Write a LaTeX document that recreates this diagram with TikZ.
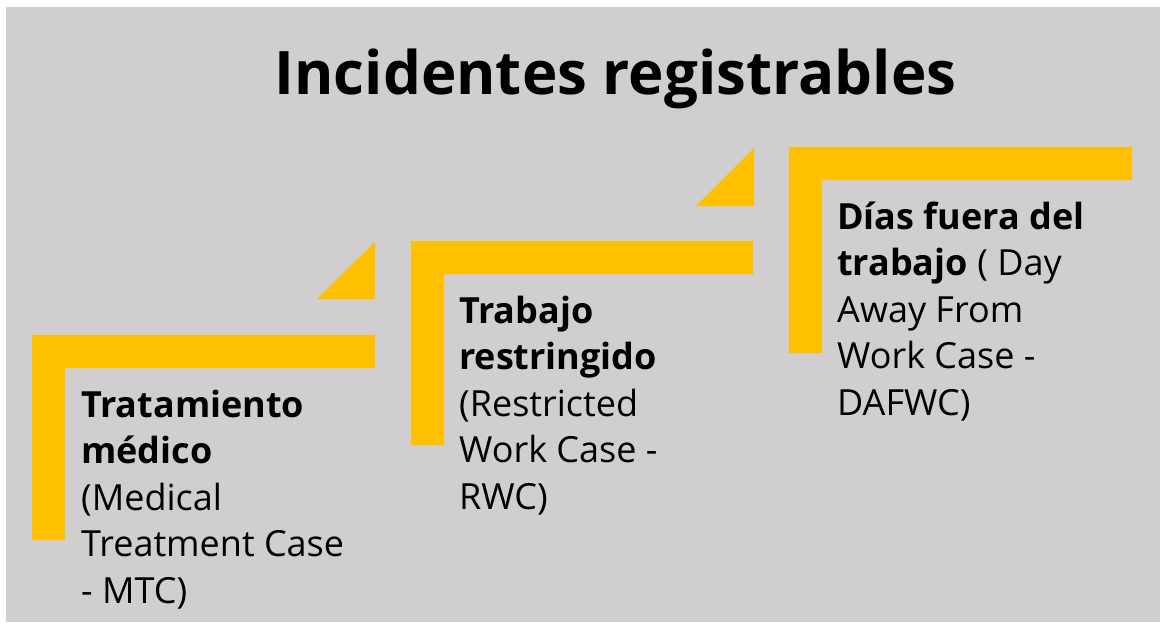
\documentclass[tikz,border=0pt]{standalone}
\usepackage{fontspec}
\setmainfont{Open Sans}
\definecolor{bggray}{HTML}{D0CECE}
\definecolor{gold}{HTML}{FFC000}
\newcommand\stacklines[1]{\vtop{\baselineskip=46.5pt\lineskiplimit=-100pt\lineskip=0pt #1}}
\tikzset{
  band/.style={fill=gold, draw=none},
  blk/.style={inner sep=0pt, anchor=base west, font=\fontsize{36}{46.5}\selectfont, text=black},
  ttl/.style={inner sep=0pt, anchor=base, font=\fontsize{60}{70}\selectfont\bfseries, text=black}
}
\begin{document}
\begin{tikzpicture}[x=1pt,y=-1pt]
\useasboundingbox (0,0) rectangle (1166,627);
\fill[white] (0,0) rectangle (1166,627);
\fill[bggray] (6,7) rectangle (1160,622);
% step shapes
\fill[band] (32,335) -- (375,335) -- (375,368) -- (65,368) -- (65,540) -- (32,540) -- cycle;
\fill[band] (317,299) -- (375,242) -- (375,299) -- cycle;
\fill[band] (411,241) -- (753,241) -- (753,274) -- (444,274) -- (444,445) -- (411,445) -- cycle;
\fill[band] (696,206) -- (754,148) -- (754,206) -- cycle;
\fill[band] (789,147) -- (1132,147) -- (1132,180) -- (822,180) -- (822,353) -- (789,353) -- cycle;
% title
\node[ttl] (title) at (615.5,94) {Incidentes registrables};
% texts
\node[blk] (t1) at (81,417) {\stacklines{\hbox{\bfseries Tratamiento}\hbox{\bfseries médico}\hbox{(Medical}\hbox{Treatment Case}\hbox{- MTC)}}};
\node[blk] (t2) at (459,323) {\stacklines{\hbox{\bfseries Trabajo}\hbox{\bfseries restringido}\hbox{(Restricted}\hbox{Work Case -}\hbox{RWC)}}};
\node[blk] (t3) at (837,229) {\stacklines{\hbox{\bfseries Días fuera del}\hbox{{\bfseries trabajo} ( Day}\hbox{Away From}\hbox{Work Case -}\hbox{DAFWC)}}};
\end{tikzpicture}
\end{document}
